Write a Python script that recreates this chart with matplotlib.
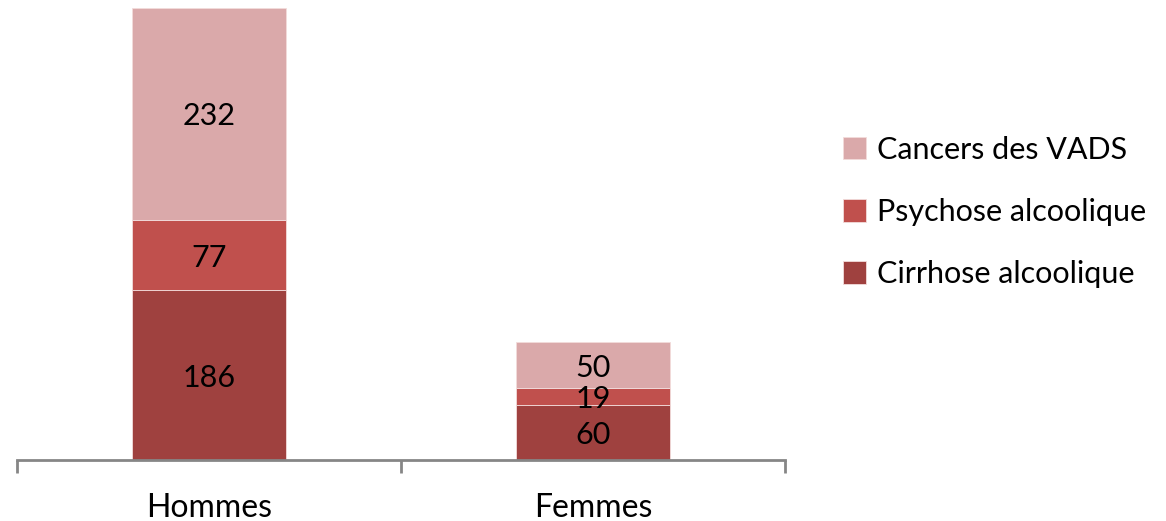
import matplotlib
matplotlib.use("Agg")
import matplotlib.pyplot as plt

categories = ["Hommes", "Femmes"]
series = ["Cirrhose alcoolique", "Psychose alcoolique", "Cancers des VADS"]
cirrhose = [186, 60]
psychose = [77, 19]
cancers = [232, 50]
colors = ["#9F413F", "#C0504D", "#DAA9AA"]

plt.rcParams["font.family"] = ["Lato", "DejaVu Sans"]

fig = plt.figure(figsize=(11.66, 5.21), dpi=100)
ax = fig.add_axes([17 / 1166, 61 / 521, 768 / 1166, 456.5 / 521])

x = list(range(len(categories)))
bottom = [0, 0]
for name, vals, col in zip(series, [cirrhose, psychose, cancers], colors):
    ax.bar(x, vals, width=0.4, bottom=bottom, color=col, label=name,
           edgecolor="#F2DCDB", linewidth=0.6)
    for xi, v, b0 in zip(x, vals, bottom):
        ax.text(xi, b0 + v / 2, str(v), ha="center", va="center_baseline",
                fontsize=22, color="black")
    bottom = [b0 + v for b0, v in zip(bottom, vals)]

ax.set_xlim(-0.5, 1.5)
ax.set_ylim(0, 500)
for s in ["top", "right", "left"]:
    ax.spines[s].set_visible(False)
ax.spines["bottom"].set_color("#868686")
ax.spines["bottom"].set_linewidth(2)
ax.set_yticks([])
ax.set_xticks([-0.5, 0.5, 1.5])
ax.set_xticklabels([])
ax.tick_params(axis="x", length=9, width=2, color="#868686")
for xi, c in zip(x, categories):
    ax.text(xi, -0.105, c, transform=ax.get_xaxis_transform(), ha="center",
            va="center", fontsize=23)

h, l = ax.get_legend_handles_labels()
fig.legend(h[::-1], l[::-1], loc="center left", bbox_to_anchor=(843 / 1166, 1 - 212 / 521),
           frameon=False, fontsize=22, handlelength=0.75, handleheight=0.75,
           handletextpad=0.35, labelspacing=1.12, borderaxespad=0, borderpad=0)

fig.savefig("out.png", dpi=100)
